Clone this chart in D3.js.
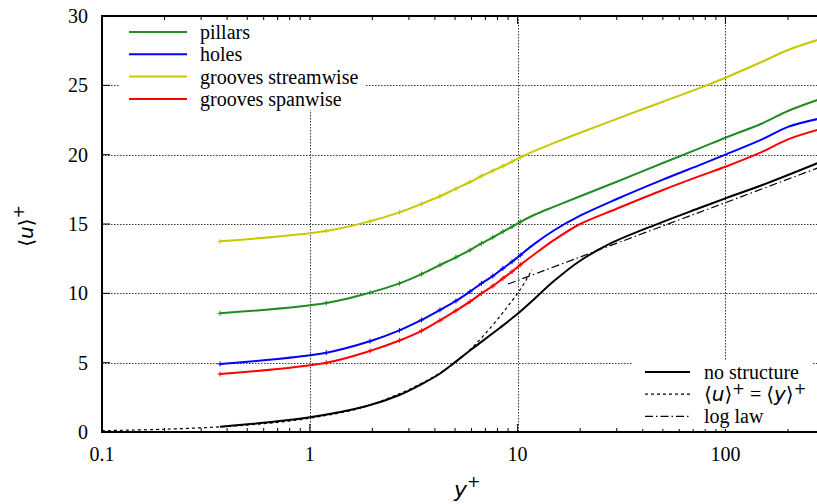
<!DOCTYPE html>
<html>
<head>
<meta charset="utf-8">
<script src="https://cdn.jsdelivr.net/npm/d3@7"></script>
<style>
  body { margin: 0; background: #fff; }
  svg { display: block; }
  .serif { font-family: "Liberation Serif", "DejaVu Serif", "Times New Roman", serif; }
  .sans { font-family: "DejaVu Sans", "Liberation Sans", sans-serif; }
</style>
</head>
<body>
<div class="chart"></div>
<script>
// wall distance grid of the structured cases
const yPlus = [0.37, 1.2, 1.95, 2.7, 3.45, 4.23, 5.05, 5.9, 6.7, 7.6, 8.5, 9.4, 10.3,
  12, 15, 20, 30, 50, 75, 100, 150, 200, 277];
const pillars = [8.56, 9.3, 10.05, 10.72, 11.39, 12.04, 12.6, 13.12, 13.6, 14.04, 14.45, 14.8, 15.15,
  15.65, 16.25, 17.0, 18.05, 19.4, 20.45, 21.22, 22.25, 23.15, 23.94];
const holes = [4.9, 5.72, 6.55, 7.33, 8.08, 8.8, 9.45, 10.12, 10.72, 11.25, 11.8, 12.28, 12.75,
  13.55, 14.55, 15.6, 16.8, 18.2, 19.25, 20.0, 21.1, 22.0, 22.57];
const groovesStream = [13.75, 14.5, 15.2, 15.84, 16.45, 17.0, 17.55, 18.03, 18.46, 18.84, 19.18, 19.5, 19.8,
  20.25, 20.85, 21.58, 22.58, 23.82, 24.8, 25.55, 26.7, 27.55, 28.27];
const groovesSpan = [4.18, 5.0, 5.85, 6.6, 7.3, 8.05, 8.75, 9.4, 10.0, 10.53, 11.08, 11.56, 12.05,
  12.8, 13.85, 15.0, 16.1, 17.45, 18.45, 19.13, 20.2, 21.1, 21.78];

// reference curves
const noStructY = [0.37, 1.0, 1.88, 2.7, 3.39, 4.24, 4.9, 5.9, 8.2, 10, 12, 15, 20, 28, 48, 75, 100, 158, 277];
const noStruct = [0.38, 1.06, 1.87, 2.67, 3.39, 4.22, 4.93, 5.88, 7.5, 8.52, 9.58, 10.9, 12.35, 13.6, 15.05,
  16.15, 16.85, 17.93, 19.38];
const viscY = [0.1, 0.2, 0.5, 1, 2, 5, 10, 11.7];
const viscU = [0.1, 0.2, 0.5, 1, 2, 5, 10, 11.7];
const logLawY = [9, 20, 50, 100, 277];
const logLawU = [10.67, 12.62, 14.86, 16.54, 19.03];

const xTicks = [0.1, 1, 10, 100];
const xTickLabels = ["0.1", "1", "10", "100"];
const yTicks = [0, 5, 10, 15, 20, 25, 30];

const w = 817;
const h = 504;
const padLeft = 102, padTop = 16, padBottom = 432;

const svg = d3.select(".chart").append("svg").attr("width", w).attr("height", h);
svg.append("rect").attr("width", w).attr("height", h).attr("fill", "#fff");

const x = d3.scaleLog().domain([0.1, 300]).range([padLeft, padLeft + 207.8 * Math.log10(3000)]);
const y = d3.scaleLinear().domain([0, 30]).range([padBottom, padTop]);

svg.append("defs").append("clipPath").attr("id", "plot")
  .append("rect").attr("x", padLeft).attr("y", padTop)
  .attr("width", x.range()[1] - padLeft).attr("height", padBottom - padTop);

// grid
const grid = svg.append("g").attr("stroke", "#333").attr("stroke-width", 1).attr("stroke-dasharray", "1.5,1.5");
grid.selectAll(".gx").data(xTicks.slice(1)).enter().append("line")
  .attr("x1", (d) => Math.round(x(d)) + 0.5).attr("x2", (d) => Math.round(x(d)) + 0.5)
  .attr("y1", padTop).attr("y2", padBottom);
grid.selectAll(".gy").data(yTicks.slice(1, -1)).enter().append("line")
  .attr("x1", padLeft).attr("x2", w)
  .attr("y1", (d) => Math.round(y(d)) + 0.5).attr("y2", (d) => Math.round(y(d)) + 0.5);

// minor + major ticks on bottom and top
const minor = [];
[0.1, 1, 10, 100].forEach((dec) => { for (let k = 2; k <= 9; k++) minor.push(dec * k); });
const ticks = svg.append("g").attr("stroke", "#000").attr("stroke-width", 1);
[[padBottom, -1], [padTop, 1]].forEach(([yy, dir]) => {
  ticks.selectAll(null).data(minor).enter().append("line")
    .attr("x1", (d) => x(d)).attr("x2", (d) => x(d))
    .attr("y1", yy).attr("y2", yy + dir * 4);
  ticks.selectAll(null).data(xTicks).enter().append("line")
    .attr("x1", (d) => x(d)).attr("x2", (d) => x(d))
    .attr("y1", yy).attr("y2", yy + dir * 8);
});
ticks.selectAll(null).data(yTicks).enter().append("line")
  .attr("x1", padLeft).attr("x2", padLeft + 8)
  .attr("y1", (d) => y(d)).attr("y2", (d) => y(d));

// legend backgrounds
svg.append("rect").attr("x", 120).attr("y", 20).attr("width", 246).attr("height", 90).attr("fill", "#fff");
svg.append("rect").attr("x", 632).attr("y", 361).attr("width", 180).attr("height", 68).attr("fill", "#fff");

// curves
const plot = svg.append("g").attr("clip-path", "url(#plot)");
const line = d3.line().x((d) => x(d[0])).y((d) => y(d[1])).curve(d3.curveCatmullRom.alpha(0.5));

const series = [
  { name: "pillars", vals: pillars, color: "#228b22" },
  { name: "holes", vals: holes, color: "#0000ff" },
  { name: "grooves streamwise", vals: groovesStream, color: "#c8c800" },
  { name: "grooves spanwise", vals: groovesSpan, color: "#ff0000" },
];

plot.append("path").datum(d3.zip(viscY, viscU)).attr("d", line)
  .attr("fill", "none").attr("stroke", "#000").attr("stroke-width", 1.2).attr("stroke-dasharray", "3,3");
plot.append("path").datum(d3.zip(logLawY, logLawU)).attr("d", line)
  .attr("fill", "none").attr("stroke", "#000").attr("stroke-width", 1.2).attr("stroke-dasharray", "8,3,1.5,3");
plot.append("path").datum(d3.zip(noStructY, noStruct)).attr("d", line)
  .attr("fill", "none").attr("stroke", "#000").attr("stroke-width", 2);

series.forEach((s) => {
  const pts = d3.zip(yPlus, s.vals);
  plot.append("path").datum(pts).attr("d", line)
    .attr("fill", "none").attr("stroke", s.color).attr("stroke-width", 2);
  // small point markers, visible only where the grid is sparse
  plot.selectAll(null).data(pts.filter((p) => p[0] < 11)).enter().append("path")
    .attr("d", (p) => `M${x(p[0]) - 2.5},${y(p[1])}h5M${x(p[0])},${y(p[1]) - 2.5}v5`)
    .attr("stroke", s.color).attr("stroke-width", 1);
});

// border
svg.append("path").attr("d", `M${w},${padTop}H${padLeft}V${padBottom}H${w}`)
  .attr("fill", "none").attr("stroke", "#000").attr("stroke-width", 2);

// tick labels
svg.selectAll(".yl").data(yTicks).enter().append("text")
  .attr("class", "serif")
  .attr("x", 88).attr("y", (d) => y(d)).attr("dy", "0.35em")
  .attr("text-anchor", "end").attr("font-size", 20)
  .text((d) => d);
svg.selectAll(".xl").data(xTicks).enter().append("text")
  .attr("class", "serif")
  .attr("x", (d) => x(d)).attr("y", 461)
  .attr("text-anchor", "middle").attr("font-size", 20)
  .text((d, i) => xTickLabels[i]);

// axis titles
const yTitle = svg.append("text").attr("class", "sans")
  .attr("transform", "translate(33,226) rotate(-90)")
  .attr("text-anchor", "middle").attr("font-size", 20);
yTitle.append("tspan").text("\u27E8");
yTitle.append("tspan").attr("font-style", "italic").text("u");
yTitle.append("tspan").text("\u27E9");
yTitle.append("tspan").attr("dy", -9).attr("font-size", 16).text("+");

const xTitle = svg.append("text").attr("class", "sans")
  .attr("x", 454).attr("y", 497).attr("font-size", 22);
xTitle.append("tspan").attr("font-style", "italic").text("y");
xTitle.append("tspan").attr("dy", -10).attr("font-size", 16).text("+");

// legend top left
const legTop = svg.append("g");
series.forEach((s, i) => {
  const ly = 32 + i * 22.3;
  legTop.append("line").attr("x1", 129).attr("x2", 187).attr("y1", ly).attr("y2", ly)
    .attr("stroke", s.color).attr("stroke-width", 2);
  legTop.append("text").attr("class", "serif").attr("x", 200).attr("y", ly + 7)
    .attr("font-size", 20).text(s.name);
});

// legend bottom right
const refs = [
  { dash: null, width: 2 },
  { dash: "3,3", width: 1.2 },
  { dash: "8,3,1.5,3", width: 1.2 },
];
refs.forEach((r, i) => {
  const ly = 372 + i * 22.2;
  svg.append("line").attr("x1", 645).attr("x2", 690).attr("y1", ly).attr("y2", ly)
    .attr("stroke", "#000").attr("stroke-width", r.width)
    .attr("stroke-dasharray", r.dash);
});
svg.append("text").attr("class", "serif").attr("x", 704).attr("y", 379)
  .attr("font-size", 20).text("no structure");
const eq = svg.append("text").attr("class", "serif").attr("x", 704).attr("y", 401)
  .attr("font-size", 20);
const eqParts = [
  ["\u27E8", "sans", null, 0], ["u", "sans", "italic", 0], ["\u27E9", "sans", null, 0],
  ["+", "sans", null, -7], [" = ", "serif", null, 7],
  ["\u27E8", "sans", null, 0], ["y", "sans", "italic", 0], ["\u27E9", "sans", null, 0],
  ["+", "sans", null, -7],
];
eqParts.forEach(([t, cls, st, dy]) => {
  const sp = eq.append("tspan").attr("class", cls).text(t);
  if (st) sp.attr("font-style", st);
  if (dy) sp.attr("dy", dy);
  if (t === "+") sp.attr("font-size", 15);
});
svg.append("text").attr("class", "serif").attr("x", 704).attr("y", 423)
  .attr("font-size", 20).text("log law");
</script>
</body>
</html>
